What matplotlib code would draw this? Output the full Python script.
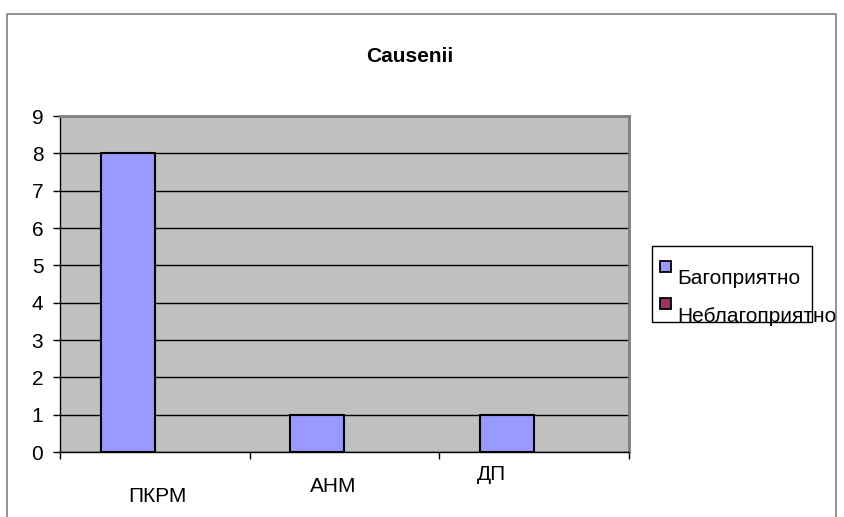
import matplotlib
matplotlib.use("Agg")
import matplotlib.pyplot as plt
from matplotlib.patches import Rectangle
from matplotlib.lines import Line2D

plt.rcParams['font.family'] = ['Liberation Sans', 'DejaVu Sans']

categories = ["ПКРМ", "АНМ", "ДП"]
series_names = ["Багоприятно", "Неблагоприятно"]
fav = [8, 1, 1]
unfav = [0, 0, 0]
yticks = list(range(0, 10))
title = "Causenii"

FS = 15
W, H = 845, 517
fig = plt.figure(figsize=(W / 100, H / 100), dpi=100)

def fx(px):
    return px / W

def fy(py):
    return 1 - py / H

# outer chart border
fig.add_artist(Line2D([fx(7), fx(7), fx(836), fx(836)], [fy(517), fy(14), fy(14), fy(517)],
                      transform=fig.transFigure, color="#808080", lw=1.2))

L, R, T, B = 60, 629, 116, 452
ax = fig.add_axes([fx(L), fy(B), fx(R - L), (B - T) / H])
ax.set_facecolor("#C0C0C0")
ax.set_xlim(0, 3)
ax.set_ylim(0, 9)
ax.set_yticks(yticks)
ax.set_yticklabels([str(t) for t in yticks], fontsize=FS)
ax.set_xticks([0, 1, 2, 3])
ax.set_xticklabels([])
ax.tick_params(axis='both', direction='out', length=5, width=1, color='black')
ax.tick_params(axis='y', pad=7)
ax.grid(axis='y', color='black', lw=1)
ax.set_axisbelow(True)
for s in ['top', 'right']:
    ax.spines[s].set_color('#808080')
    ax.spines[s].set_linewidth(2)
for s in ['left', 'bottom']:
    ax.spines[s].set_color('black')
    ax.spines[s].set_linewidth(1)

bw = 1 / 3.5
x1 = [i + 0.75 / 3.5 + bw / 2 for i in range(len(categories))]
x2 = [i + 0.75 / 3.5 + 1.5 * bw for i in range(len(categories))]
ax.bar(x1, fav, width=bw, color="#9999FF", edgecolor="black", lw=1.5, zorder=3)
ax.bar(x2, unfav, width=bw, color="#993366", edgecolor="none", lw=0, zorder=3)

# category labels (staggered as in original)
label_pos = [(157, 496), (333, 487), (491, 474)]
for cat, (px, py) in zip(categories, label_pos):
    fig.text(fx(px), fy(py), cat, ha='center', va='center', fontsize=FS)

fig.text(fx(410), fy(56), title, ha='center', va='center', fontsize=FS, fontweight='bold')

# legend
fig.add_artist(Rectangle((fx(652), fy(322)), fx(812 - 652), (322 - 246) / H,
                         transform=fig.transFigure, facecolor='white', edgecolor='black', lw=1))
colors = ["#9999FF", "#993366"]
marker_top = [261, 298]
text_y = [278, 316]
for name, c, mt, ty in zip(series_names, colors, marker_top, text_y):
    fig.add_artist(Rectangle((fx(660), fy(mt + 11)), fx(11), 11 / H, transform=fig.transFigure,
                             facecolor=c, edgecolor='black', lw=1.3))
    fig.text(fx(677), fy(ty), name, ha='left', va='center', fontsize=FS)

fig.savefig("out.png", dpi=100)
